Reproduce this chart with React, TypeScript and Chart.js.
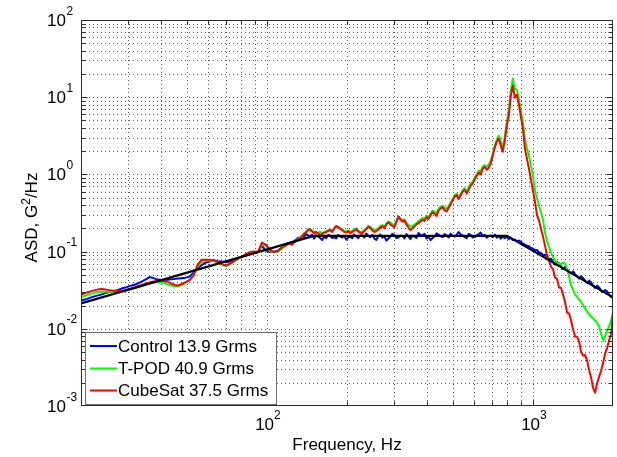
import { useEffect, useRef } from "react";
import { Chart, registerables } from "chart.js";

Chart.register(...registerables);

// Frequency grid (Hz) shared by the three measured spectra
const FREQ_HZ = [
  20, 20.75, 21.48, 22.25, 23.03, 23.85, 24.69, 25.56, 26.47, 27.4,
  28.37, 29.38, 30.41, 31.49, 32.6, 33.76, 34.95, 36.18, 37.46, 38.79,
  40.16, 41.58, 43.05, 44.57, 46.15, 47.78, 49.47, 51.22, 53.03, 54.91,
  56.85, 58.86, 60.94, 63.1, 65.33, 67.64, 70.03, 72.51, 75.07, 77.73,
  80.48, 83.32, 86.27, 89.32, 92.48, 95.75, 99.13, 102.6, 106.3, 110,
  113.9, 115.9, 117.9, 120.0, 122.1, 124.3, 126.4, 128.6, 130.9, 133.2,
  135.6, 137.9, 140.3, 142.8, 145.3, 147.8, 150.4, 153.0, 155.8, 158.5,
  161.3, 164.1, 167.0, 169.9, 172.9, 175.9, 179.0, 182.1, 185.3, 188.6,
  191.9, 195.3, 198.7, 202.2, 205.7, 209.3, 213.0, 216.7, 220.5, 224.4,
  228.3, 232.3, 236.4, 240.6, 244.7, 249.0, 253.4, 257.9, 262.4, 267.0,
  271.6, 276.4, 281.2, 286.2, 291.2, 296.3, 301.4, 306.7, 312.1, 317.6,
  323.1, 328.8, 334.6, 340.5, 346.4, 352.5, 358.6, 364.9, 371.3, 377.8,
  384.5, 391.3, 398.1, 405.1, 412.2, 419.4, 426.7, 434.2, 441.8, 449.6,
  457.4, 465.5, 473.6, 482.0, 490.3, 499.0, 507.7, 516.6, 525.6, 534.9,
  544.2, 553.7, 563.4, 573.4, 583.4, 593.6, 604.0, 614.6, 625.4, 636.4,
  647.5, 658.9, 670.4, 682.2, 694.1,
  706.3, 718.6, 731.3, 744.1, 757.1, 770.4, 783.9, 797.7, 811.7, 826,
  840.4, 855.2, 870.2, 885.5, 901, 916.9, 932.9, 949.3, 966, 982.9,
  1000, 1018, 1035, 1054, 1072, 1091, 1110, 1129,
  1149, 1169, 1190, 1211, 1232, 1253, 1275, 1298, 1321, 1344,
  1367, 1391, 1416, 1440, 1466, 1491, 1518, 1544, 1571, 1598,
  1627, 1655, 1684, 1713, 1744, 1774, 1806, 1837, 1869, 1902,
  1936, 1969, 2000,
];

// ASD, G^2/Hz
const CONTROL = [
  0.0232, 0.0239, 0.025, 0.0261, 0.0269, 0.0277, 0.029, 0.0299, 0.0308, 0.0317,
  0.0332, 0.0342, 0.0357, 0.0369, 0.0385, 0.0409, 0.0434, 0.0468, 0.0453, 0.0434,
  0.0428, 0.0428, 0.0434, 0.044, 0.0447, 0.0453, 0.046, 0.0474, 0.0535, 0.0602,
  0.0669, 0.072, 0.0746, 0.0775, 0.0746, 0.0742, 0.073, 0.0742, 0.0787, 0.0824,
  0.0862, 0.0888, 0.0928, 0.0956, 0.0985, 0.1182, 0.103, 0.0985, 0.1, 0.103,
  0.1127, 0.119, 0.1232, 0.125, 0.1308, 0.129, 0.1369, 0.143, 0.1518, 0.148,
  0.1612, 0.154, 0.1685, 0.162, 0.1588, 0.166, 0.1474, 0.161, 0.1564, 0.15,
  0.141, 0.156, 0.1496, 0.164, 0.1612, 0.15, 0.154, 0.148, 0.1636, 0.156,
  0.1518, 0.16, 0.143, 0.152, 0.1564, 0.149, 0.166, 0.156, 0.1496, 0.162,
  0.1612, 0.152, 0.1711, 0.16, 0.154, 0.165, 0.1474, 0.142, 0.1588, 0.166,
  0.1518, 0.158, 0.1388, 0.148, 0.1564, 0.17, 0.1636, 0.15, 0.1518, 0.16,
  0.1588, 0.148, 0.1685, 0.156, 0.1452, 0.161, 0.1564, 0.15, 0.1737, 0.164,
  0.1612, 0.17, 0.1474, 0.156, 0.141, 0.15, 0.1564, 0.172, 0.166, 0.158,
  0.154, 0.169, 0.1612, 0.152, 0.1711, 0.16, 0.1564, 0.166, 0.179, 0.168,
  0.1612, 0.154, 0.1496, 0.17, 0.1636, 0.152, 0.154, 0.162, 0.1685, 0.176,
  0.1588, 0.165, 0.1518, 0.158, 0.1612,
  0.154, 0.166, 0.1518, 0.1588, 0.1474, 0.1564, 0.1496, 0.1564, 0.1452, 0.1518,
  0.141, 0.143, 0.1369, 0.1388, 0.134, 0.127, 0.1232, 0.119, 0.117, 0.111,
  0.11, 0.104, 0.105, 0.0975, 0.096, 0.0905, 0.091, 0.085,
  0.079, 0.0812, 0.0745, 0.0679, 0.0735, 0.07, 0.064, 0.0594, 0.063, 0.0585,
  0.054, 0.052, 0.0555, 0.0512, 0.0475, 0.0447, 0.048, 0.0453, 0.0415, 0.0391,
  0.042, 0.0397, 0.036, 0.0338, 0.0362, 0.0342, 0.031, 0.0299, 0.0318, 0.0303,
  0.0275, 0.0257, 0.0269,
];

const TPOD = [
  0.0257, 0.0269, 0.0281, 0.029, 0.0299, 0.0303, 0.0303, 0.0303, 0.0303, 0.0303,
  0.0308, 0.0312, 0.0322, 0.0332, 0.0342, 0.0357, 0.0374, 0.0385, 0.0397, 0.0402,
  0.0402, 0.0385, 0.0369, 0.0357, 0.0352, 0.0369, 0.0397, 0.0434, 0.0504, 0.0639,
  0.073, 0.0765, 0.0765, 0.0753, 0.072, 0.0679, 0.065, 0.0679, 0.0742, 0.08,
  0.0849, 0.0901, 0.0942, 0.0971, 0.0985, 0.1232, 0.1178, 0.1015, 0.0971, 0.1,
  0.1094, 0.115, 0.1178, 0.124, 0.127, 0.13, 0.1348, 0.14, 0.1452, 0.153,
  0.1612, 0.172, 0.1816, 0.195, 0.19, 0.185, 0.1816, 0.17, 0.1763, 0.18,
  0.1737, 0.179, 0.1843, 0.19, 0.1928, 0.185, 0.2015, 0.21, 0.2045, 0.2,
  0.1928, 0.185, 0.1816, 0.188, 0.179, 0.185, 0.1928, 0.2, 0.1871, 0.18,
  0.179, 0.19, 0.1986, 0.215, 0.2108, 0.195, 0.19, 0.195, 0.2015, 0.215,
  0.2205, 0.21, 0.2306, 0.245, 0.2375, 0.225, 0.2238, 0.25, 0.284, 0.27,
  0.256, 0.26, 0.2375, 0.22, 0.2108, 0.215, 0.2238, 0.235, 0.2485, 0.26,
  0.2716, 0.265, 0.2925, 0.28, 0.3105, 0.34, 0.33, 0.31, 0.3606, 0.38,
  0.3945, 0.37, 0.3606, 0.39, 0.4312, 0.48, 0.539, 0.56, 0.5157, 0.56,
  0.626, 0.66, 0.607, 0.68, 0.76, 0.81, 0.909, 1.0, 1.12, 1.1,
  1.262, 1.32, 1.262, 1.35, 1.51,
  1.856, 2.361, 2.825, 3.184, 2.662, 2.223, 3.09, 4.83, 7.112, 12.16,
  17.42, 12.91, 12.53, 9.594, 6.699, 4.688, 2.911, 2.158, 1.751, 1.3,
  0.965, 0.6167, 0.5, 0.3945, 0.32, 0.2597, 0.1763, 0.1388,
  0.115, 0.0971, 0.085, 0.0765, 0.072, 0.07, 0.069, 0.072, 0.07, 0.0602,
  0.048, 0.0362, 0.032, 0.0277, 0.026, 0.0239, 0.0225, 0.02, 0.0182, 0.0167,
  0.0155, 0.0144, 0.0136, 0.0128, 0.012, 0.0107, 0.0085, 0.00703, 0.008, 0.00948,
  0.011, 0.0128, 0.0162,
];

const CUBESAT = [
  0.0277, 0.029, 0.0303, 0.0312, 0.0322, 0.0327, 0.0322, 0.0317, 0.0312, 0.0308,
  0.0312, 0.0317, 0.0327, 0.0342, 0.0357, 0.0369, 0.0385, 0.0397, 0.0409, 0.0415,
  0.0415, 0.0415, 0.0397, 0.0374, 0.0363, 0.038, 0.0402, 0.0428, 0.0489, 0.0679,
  0.0787, 0.0787, 0.0787, 0.0775, 0.073, 0.0688, 0.0659, 0.07, 0.0753, 0.0812,
  0.0862, 0.0928, 0.0985, 0.1, 0.0985, 0.1308, 0.1232, 0.1062, 0.0985, 0.1015,
  0.1127, 0.118, 0.1214, 0.129, 0.125, 0.123, 0.1308, 0.138, 0.141, 0.15,
  0.1564, 0.17, 0.1763, 0.19, 0.1957, 0.182, 0.1737, 0.18, 0.1711, 0.165,
  0.1685, 0.176, 0.179, 0.185, 0.19, 0.18, 0.1986, 0.215, 0.2077, 0.198,
  0.19, 0.18, 0.1763, 0.185, 0.1737, 0.18, 0.1871, 0.195, 0.1816, 0.175,
  0.1711, 0.185, 0.1957, 0.21, 0.2045, 0.188, 0.179, 0.185, 0.1928, 0.205,
  0.214, 0.2, 0.227, 0.24, 0.2238, 0.215, 0.2077, 0.24, 0.284, 0.26,
  0.2447, 0.255, 0.2238, 0.205, 0.19, 0.2, 0.2108, 0.225, 0.234, 0.245,
  0.2597, 0.25, 0.2797, 0.265, 0.297, 0.325, 0.3105, 0.29, 0.3397, 0.36,
  0.377, 0.345, 0.33, 0.37, 0.4063, 0.46, 0.5157, 0.54, 0.4786, 0.53,
  0.5986, 0.63, 0.564, 0.63, 0.716, 0.76, 0.856, 0.96, 1.055, 1.0,
  1.189, 1.25, 1.154, 1.22, 1.381,
  1.751, 2.223, 2.662, 2.911, 2.361, 1.973, 2.742, 4.285, 5.782, 10.49,
  14.12, 9.88, 10.81, 8.017, 5.61, 3.917, 2.158, 1.603, 1.189, 0.856,
  0.6167, 0.4444, 0.3015, 0.2521, 0.1986, 0.1564, 0.1196, 0.0914,
  0.076, 0.0639, 0.059, 0.046, 0.0445, 0.0342, 0.034, 0.0277, 0.022, 0.0162,
  0.0158, 0.0128, 0.0098, 0.00793, 0.0079, 0.00682, 0.005, 0.0045, 0.0046, 0.00387,
  0.0029, 0.00233, 0.0017, 0.00149, 0.002, 0.0024, 0.0029, 0.00365, 0.0048, 0.00571,
  0.0072, 0.00867, 0.0167,
];

// Reference test profile (breakpoints)
const PROFILE_HZ = [20, 150, 800, 2000];
const PROFILE_ASD = [0.0213, 0.16, 0.16, 0.0256];

const SERIES_LABELS = ["Control 13.9 Grms", "T-POD 40.9 Grms", "CubeSat 37.5 Grms"];
const SERIES_COLORS = ["#0000ff", "#00ff00", "#ff0000"];

const X_MIN = 20;
const X_MAX = 2000;
const Y_MIN = 1e-3;
const Y_MAX = 1e2;
const X_LABEL_EXPONENTS = [2, 3];
const Y_LABEL_EXPONENTS = [-3, -2, -1, 0, 1, 2];
const X_TITLE = "Frequency, Hz";
const Y_TITLE_PARTS = ["ASD, G", "2", "/Hz"];

const FONT = '"Liberation Sans", Arial, Helvetica, sans-serif';
const AXIS_COLOR = "#2b2b2b";
const GRID_COLOR = "#5a5a5a";

// every 1..9 x 10^n value inside [lo, hi]
function logGridValues(lo: number, hi: number): number[] {
  const out: number[] = [];
  const d0 = Math.floor(Math.log10(lo));
  const d1 = Math.ceil(Math.log10(hi));
  for (let d = d0; d <= d1; d++) {
    for (let m = 1; m <= 9; m++) {
      const v = parseFloat((m * Math.pow(10, d)).toPrecision(6));
      if (v >= lo - 1e-12 && v <= hi + 1e-9) out.push(v);
    }
  }
  return out;
}

function isDecade(v: number): boolean {
  const l = Math.log10(v);
  return Math.abs(l - Math.round(l)) < 1e-9;
}

const axesPlugin = {
  id: "matlabAxes",
  beforeDatasetsDraw(chart: any) {
    const { ctx, chartArea } = chart;
    const { left, right, top, bottom } = chartArea;
    const xs = chart.scales.x;
    const ys = chart.scales.y;
    ctx.save();
    ctx.strokeStyle = GRID_COLOR;
    ctx.lineWidth = 1;
    ctx.setLineDash([1, 3]);
    for (const v of logGridValues(X_MIN, X_MAX)) {
      if (v <= X_MIN || v >= X_MAX) continue;
      const x = Math.round(xs.getPixelForValue(v)) + 0.5;
      ctx.beginPath();
      ctx.moveTo(x, top);
      ctx.lineTo(x, bottom);
      ctx.stroke();
    }
    for (const v of logGridValues(Y_MIN, Y_MAX)) {
      if (v <= Y_MIN || v >= Y_MAX) continue;
      const y = Math.round(ys.getPixelForValue(v)) + 0.5;
      ctx.beginPath();
      ctx.moveTo(left, y);
      ctx.lineTo(right, y);
      ctx.stroke();
    }
    ctx.restore();
  },
  afterDatasetsDraw(chart: any) {
    const { ctx, chartArea } = chart;
    const { left, right, top, bottom } = chartArea;
    const xs = chart.scales.x;
    const ys = chart.scales.y;
    ctx.save();

    // axes box
    ctx.strokeStyle = AXIS_COLOR;
    ctx.lineWidth = 1;
    ctx.setLineDash([]);
    const L = Math.round(left) + 0.5;
    const R = Math.round(right) - 0.5;
    const T = Math.round(top) + 0.5;
    const B = Math.round(bottom) - 0.5;
    ctx.strokeRect(L, T, R - L, B - T);

    // inward ticks on all four sides
    ctx.beginPath();
    for (const v of logGridValues(X_MIN, X_MAX)) {
      if (v <= X_MIN || v >= X_MAX) continue;
      const x = Math.round(xs.getPixelForValue(v)) + 0.5;
      const len = isDecade(v) ? 6 : 4;
      ctx.moveTo(x, B);
      ctx.lineTo(x, B - len);
      ctx.moveTo(x, T);
      ctx.lineTo(x, T + len);
    }
    for (const v of logGridValues(Y_MIN, Y_MAX)) {
      if (v <= Y_MIN || v >= Y_MAX) continue;
      const y = Math.round(ys.getPixelForValue(v)) + 0.5;
      const len = isDecade(v) ? 6 : 4;
      ctx.moveTo(L, y);
      ctx.lineTo(L + len, y);
      ctx.moveTo(R, y);
      ctx.lineTo(R - len, y);
    }
    ctx.stroke();

    ctx.fillStyle = "#000";
    ctx.textBaseline = "alphabetic";

    // y tick labels: 10^n
    for (const e of Y_LABEL_EXPONENTS) {
      const y = ys.getPixelForValue(Math.pow(10, e));
      ctx.font = `17px ${FONT}`;
      ctx.textAlign = "right";
      ctx.fillText("10", 66, y + 6);
      ctx.font = `12px ${FONT}`;
      ctx.textAlign = "left";
      ctx.fillText(String(e), 66.5, y - 5.5);
    }

    // x tick labels: 10^n
    for (const e of X_LABEL_EXPONENTS) {
      const x = xs.getPixelForValue(Math.pow(10, e));
      ctx.font = `17px ${FONT}`;
      const wMain = ctx.measureText("10").width;
      ctx.font = `12px ${FONT}`;
      const wExp = ctx.measureText(String(e)).width;
      const x0 = x - (wMain + wExp) / 2 + 1;
      ctx.textAlign = "left";
      ctx.font = `17px ${FONT}`;
      ctx.fillText("10", x0, 429.5);
      ctx.font = `12px ${FONT}`;
      ctx.fillText(String(e), x0 + wMain, 419);
    }

    // axis titles
    ctx.font = `17px ${FONT}`;
    ctx.textAlign = "center";
    ctx.fillText(X_TITLE, (left + right) / 2, 450);

    ctx.save();
    ctx.translate(37, 217.5);
    ctx.rotate(-Math.PI / 2);
    ctx.textAlign = "left";
    ctx.font = `17px ${FONT}`;
    const w0 = ctx.measureText(Y_TITLE_PARTS[0]).width;
    const w2 = ctx.measureText(Y_TITLE_PARTS[2]).width;
    ctx.font = `12px ${FONT}`;
    const w1 = ctx.measureText(Y_TITLE_PARTS[1]).width;
    let tx = -(w0 + w1 + w2) / 2;
    ctx.font = `17px ${FONT}`;
    ctx.fillText(Y_TITLE_PARTS[0], tx, 0);
    tx += w0;
    ctx.font = `12px ${FONT}`;
    ctx.fillText(Y_TITLE_PARTS[1], tx, -7);
    tx += w1;
    ctx.font = `17px ${FONT}`;
    ctx.fillText(Y_TITLE_PARTS[2], tx, 0);
    ctx.restore();

    // legend box
    const bx = 85.5;
    const by = 332.5;
    const bw = 191;
    const bh = 72;
    ctx.fillStyle = "#ffffff";
    ctx.fillRect(bx, by, bw, bh);
    ctx.strokeStyle = "#6e6e6e";
    ctx.lineWidth = 1;
    ctx.strokeRect(bx, by, bw, bh);
    const rowY = [346, 368.5, 390.5];
    ctx.font = `17px ${FONT}`;
    ctx.textAlign = "left";
    SERIES_LABELS.forEach((label, i) => {
      ctx.strokeStyle = SERIES_COLORS[i];
      ctx.lineWidth = 2;
      ctx.beginPath();
      ctx.moveTo(90, rowY[i]);
      ctx.lineTo(117, rowY[i]);
      ctx.stroke();
      ctx.fillStyle = "#000";
      ctx.fillText(label, 118, rowY[i] + 5.5);
    });

    ctx.restore();
  },
};

function toPoints(xs: number[], ys: number[]) {
  return xs.map((x, i) => ({ x, y: ys[i] }));
}

export default function App() {
  const canvasRef = useRef<HTMLCanvasElement | null>(null);

  useEffect(() => {
    const canvas = canvasRef.current;
    if (!canvas) return;
    const lineStyle = {
      borderWidth: 2,
      pointRadius: 0,
      tension: 0,
      fill: false,
      borderJoinStyle: "round" as const,
      borderCapStyle: "round" as const,
    };
    const chart = new Chart(canvas, {
      type: "line",
      data: {
        datasets: [
          { ...lineStyle, label: SERIES_LABELS[0], data: toPoints(FREQ_HZ, CONTROL), borderColor: SERIES_COLORS[0], order: 4 },
          { ...lineStyle, label: SERIES_LABELS[1], data: toPoints(FREQ_HZ, TPOD), borderColor: SERIES_COLORS[1], order: 3 },
          { ...lineStyle, label: SERIES_LABELS[2], data: toPoints(FREQ_HZ, CUBESAT), borderColor: SERIES_COLORS[2], order: 2 },
          { ...lineStyle, label: "Profile", data: toPoints(PROFILE_HZ, PROFILE_ASD), borderColor: "#000000", borderWidth: 2.2, order: 1 },
        ],
      },
      options: {
        animation: false,
        responsive: false,
        events: [],
        layout: { padding: { left: 81, right: 4, top: 20, bottom: 51 } },
        scales: {
          x: { type: "logarithmic", min: X_MIN, max: X_MAX, display: false },
          y: { type: "logarithmic", min: Y_MIN, max: Y_MAX, display: false },
        },
        plugins: {
          legend: { display: false },
          tooltip: { enabled: false },
        },
      },
      plugins: [axesPlugin],
    } as any);
    return () => chart.destroy();
  }, []);

  return (
    <div style={{ position: "absolute", left: 0, top: 0, width: 617, height: 457, background: "#fff" }}>
      <canvas ref={canvasRef} width={617} height={457} style={{ display: "block" }} />
    </div>
  );
}
